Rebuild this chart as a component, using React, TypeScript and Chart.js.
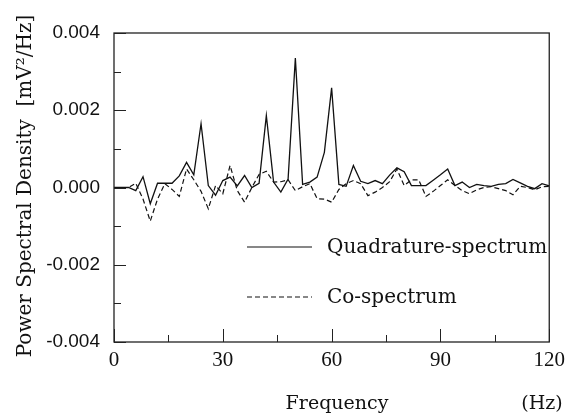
import React, { useEffect, useRef } from "react";
import { Chart, registerables } from "chart.js";

Chart.register(...registerables);

const frequencies = [
  0, 2, 4, 6, 8, 10, 12, 14, 16, 18, 20, 22, 24, 26, 28, 30, 32, 34, 36, 38, 40,
  42, 44, 46, 48, 50, 52, 54, 56, 58, 60, 62, 64, 66, 68, 70, 72, 74, 76, 78, 80,
  82, 84, 86, 88, 90, 92, 94, 96, 98, 100, 102, 104, 106, 108, 110, 112, 114, 116, 118, 120,
];

const quadrature = [
  0, 0, 0, -0.00008, 0.00028, -0.00042, 0.00011, 0.00011, 0.00011, 0.0003, 0.00065,
  0.00033, 0.00165, 0.00005, -0.0002, 0.00018, 0.00027, 0.00004, 0.00031, 0, 0.00011,
  0.00186, 0.00014, -0.00012, 0.00022, 0.00335, 0.00008, 0.00014, 0.00027, 0.00091, 0.00258,
  0.00008, 0.00003, 0.00057, 0.00016, 0.0001, 0.00018, 0.0001, 0.00032, 0.00051, 0.00041,
  0.00005, 0.00005, 0.00005, 0.00019, 0.00033, 0.00048, 0.00005, 0.00014, 0, 0.00008,
  0.00005, 0.00003, 0.00008, 0.0001, 0.00021, 0.00012, 0.00003, -0.00003, 0.0001, 0.00004,
];

const cospectrum = [
  0, 0, 0, 0.00011, -0.0003, -0.00087, -0.0003, 0.0001, -0.00005, -0.00023, 0.00048,
  0.0002, -0.0001, -0.00055, 0.00005, -0.00016, 0.00057, -0.00008, -0.00038, 0, 0.00034,
  0.00042, 0.00014, 0.00015, 0.0002, -0.00008, 0.00002, 0.0001, -0.00029, -0.0003, -0.00038,
  -0.00005, 0.0001, 0.00018, 0.0001, -0.00021, -0.00012, 0, 0.00015, 0.00048, 0.00005,
  0.0002, 0.0002, -0.00023, -0.0001, 0.00005, 0.0002, 0.00005, -0.00008, -0.00016, -0.00006,
  0, 0.00002, -0.00003, -0.00008, -0.00019, 0.00003, 0, -0.00006, 0.00002, 0.00003,
];

const yLabeledTicks = [-0.004, -0.002, 0, 0.002, 0.004];
const xLabeledTicks = [0, 30, 60, 90, 120];
const seriesNames = ["Quadrature-spectrum", "Co-spectrum"];
const yTitle = "Power Spectral Density  [mV\u00B2/Hz]";
const xTitle = "Frequency";
const xUnit = "(Hz)";

const SERIF = "'DejaVu Serif', serif";

export default function App() {
  const ref = useRef<HTMLCanvasElement | null>(null);

  useEffect(() => {
    const canvas = ref.current;
    if (!canvas) return;

    const decor = {
      id: "decor",
      afterDraw(chart: any) {
        const ctx = chart.ctx;
        const a = chart.chartArea;
        const xs = chart.scales.x;
        const ys = chart.scales.y;
        ctx.save();
        ctx.strokeStyle = "#222";
        ctx.lineWidth = 1.3;
        ctx.strokeRect(a.left, a.top, a.right - a.left, a.bottom - a.top);
        ctx.lineWidth = 1;
        // y inward ticks
        for (let v = -0.004; v <= 0.0040001; v += 0.001) {
          const py = Math.round(ys.getPixelForValue(v)) + 0.5;
          const major = yLabeledTicks.some((t) => Math.abs(t - v) < 1e-9);
          ctx.beginPath();
          ctx.moveTo(a.left, py);
          ctx.lineTo(a.left + (major ? 12 : 7), py);
          ctx.stroke();
        }
        // x inward ticks
        for (let v = 0; v <= 120; v += 15) {
          const px = Math.round(xs.getPixelForValue(v)) + 0.5;
          const major = xLabeledTicks.includes(v);
          ctx.beginPath();
          ctx.moveTo(px, a.bottom);
          ctx.lineTo(px, a.bottom - (major ? 13 : 7));
          ctx.stroke();
        }
        // legend
        ctx.fillStyle = "#111";
        ctx.strokeStyle = "#111";
        ctx.lineWidth = 1.2;
        ctx.font = `20px ${SERIF}`;
        ctx.textBaseline = "middle";
        ctx.textAlign = "left";
        const legendRows = [
          { y: 247, dash: [] as number[] },
          { y: 297, dash: [5, 3] },
        ];
        legendRows.forEach((row, i) => {
          ctx.setLineDash(row.dash);
          ctx.beginPath();
          ctx.moveTo(247, row.y);
          ctx.lineTo(312, row.y);
          ctx.stroke();
          ctx.setLineDash([]);
          ctx.fillText(seriesNames[i], 327, row.y + 1);
        });
        // x title & unit
        ctx.textAlign = "center";
        ctx.font = `19px ${SERIF}`;
        ctx.fillText(xTitle, 337, 404);
        ctx.fillText(xUnit, 542, 404);
        // y title
        ctx.font = `20px ${SERIF}`;
        ctx.translate(26, 186);
        ctx.rotate(-Math.PI / 2);
        ctx.fillText(yTitle, 0, 0);
        ctx.restore();
      },
    };

    const chart = new Chart(canvas, {
      type: "line",
      data: {
        datasets: [
          {
            label: seriesNames[0],
            data: frequencies.map((f, i) => ({ x: f, y: quadrature[i] })),
            borderColor: "#111",
            borderWidth: 1.3,
            pointRadius: 0,
            tension: 0,
            fill: false,
          },
          {
            label: seriesNames[1],
            data: frequencies.map((f, i) => ({ x: f, y: cospectrum[i] })),
            borderColor: "#111",
            borderWidth: 1.2,
            borderDash: [5, 3],
            pointRadius: 0,
            tension: 0,
            fill: false,
          },
        ],
      },
      options: {
        responsive: false,
        animation: false,
        events: [],
        layout: { padding: { left: 0, top: 33, right: 20, bottom: 0 } },
        plugins: {
          legend: { display: false },
          tooltip: { enabled: false },
          title: { display: false },
        },
        scales: {
          x: {
            type: "linear",
            min: 0,
            max: 120,
            afterFit: (s: any) => {
              s.height = 74;
            },
            grid: { display: false, drawTicks: false },
            border: { display: false },
            ticks: {
              stepSize: 30,
              padding: 6,
              color: "#111",
              font: { family: "'Liberation Serif', serif", size: 21 },
              callback: (v: any) => (xLabeledTicks.includes(Number(v)) ? String(v) : ""),
            },
          },
          y: {
            type: "linear",
            min: -0.004,
            max: 0.004,
            afterFit: (s: any) => {
              s.width = 114;
            },
            grid: { display: false, drawTicks: false },
            border: { display: false },
            ticks: {
              stepSize: 0.002,
              padding: 14,
              color: "#111",
              font: { family: "'Liberation Sans', sans-serif", size: 19 },
              callback: (v: any) => Number(v).toFixed(3),
            },
          },
        },
      },
      plugins: [decor],
    });

    return () => chart.destroy();
  }, []);

  return (
    <div style={{ position: "fixed", left: 0, top: 0, width: 571, height: 416, background: "#fff" }}>
      <canvas ref={ref} width={571} height={416} />
    </div>
  );
}
